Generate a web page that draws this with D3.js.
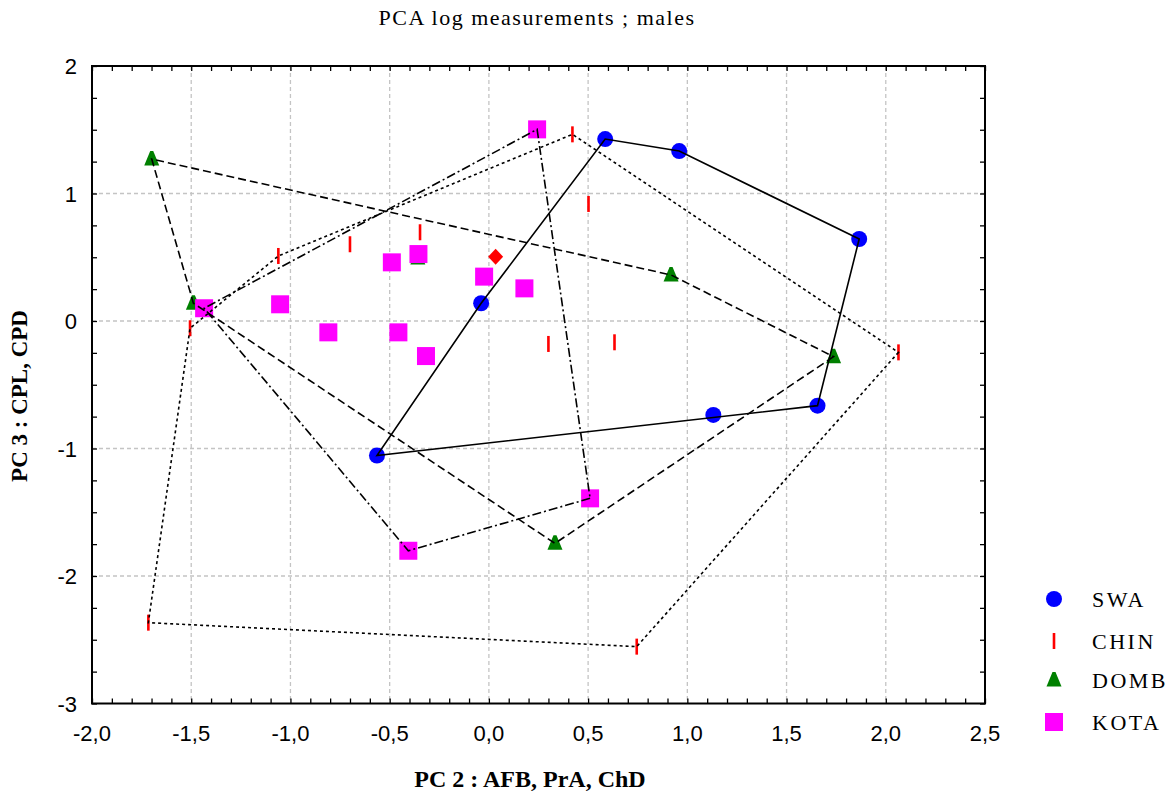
<!DOCTYPE html>
<html>
<head>
<meta charset="utf-8">
<script src="https://cdn.jsdelivr.net/npm/d3@7"></script>
<style>
  html, body { margin: 0; padding: 0; background: #fff; }
  svg { display: block; }
</style>
</head>
<body>
<svg id="chart" width="1173" height="794"></svg>
<script>
// PC2 / PC3 scores per group (males, log measurements)
const swaPC2  = [0.586, 0.959, 1.866, -0.039, -0.564, 1.131, 1.656];
const swaPC3  = [1.427, 1.333, 0.643, 0.139, -1.055, -0.737, -0.664];

const chinPC2 = [0.421, 0.502, -1.061, -0.700, -0.347, -1.506, 0.300, 0.633, 2.064, -1.716, 0.745];
const chinPC3 = [1.464, 0.918, 0.510, 0.602, 0.696, -0.057, -0.180, -0.167, -0.246, -2.366, -2.554];

const dombPC2 = [-1.699, -1.489, 0.918, 1.737, 0.333, -0.358];
const dombPC3 = [1.270, 0.139, 0.361, -0.280, -1.744, 0.494];

const kotaPC2 = [0.243, -1.435, -1.052, -0.809, -0.489, -0.355, -0.456, -0.317, -0.024, 0.179, 0.510, -0.406];
const kotaPC3 = [1.503, 0.100, 0.131, -0.089, 0.460, 0.525, -0.089, -0.275, 0.348, 0.256, -1.391, -1.802];

const centroidPC2 = [0.034];
const centroidPC3 = [0.504];

const groupNames = ["SWA", "CHIN", "DOMB", "KOTA"];
const xTicks = [-2.0, -1.5, -1.0, -0.5, 0.0, 0.5, 1.0, 1.5, 2.0, 2.5];
const yTicks = [-3, -2, -1, 0, 1, 2];

const titleText = "PCA log measurements ; males";
const xTitle = "PC 2 : AFB, PrA, ChD";
const yTitle = "PC 3 : CPL, CPD";

const svg = d3.select("#chart");
const plot = { left: 92, right: 985, top: 66, bottom: 703.5 };

const x = d3.scaleLinear().domain([-2, 2.5]).range([plot.left, plot.right]);
const y = d3.scaleLinear().domain([-3, 2]).range([plot.bottom, plot.top]);

const fmt = v => d3.format(".1f")(v).replace(".", ",").replace("−", "-");
const serif = "'Liberation Serif', 'Times New Roman', serif";

// Title
svg.append("text")
  .attr("x", 537).attr("y", 25)
  .attr("text-anchor", "middle")
  .style("font-family", serif)
  .style("font-size", "22px")
  .style("letter-spacing", "1.5px")
  .text(titleText);

// Grid
const grid = svg.append("g").attr("stroke", "#c4c4c4").attr("stroke-width", 1.3)
  .attr("stroke-dasharray", "4,3");
grid.selectAll(".gx").data(xTicks.filter(t => t > -2 && t < 2.5)).join("line")
  .attr("x1", d => x(d)).attr("x2", d => x(d))
  .attr("y1", plot.top).attr("y2", plot.bottom);
grid.selectAll(".gy").data(yTicks.filter(t => t > -3 && t < 2)).join("line")
  .attr("y1", d => y(d)).attr("y2", d => y(d))
  .attr("x1", plot.left).attr("x2", plot.right);

// Axes with inward ticks (major and minor) on all four sides
const xMinor = d3.range(-20, 26).map(i => i / 10);
const yMinor = d3.range(-12, 9).map(i => i / 4);
const tickLen = 5;

const bottomAxis = d3.axisBottom(x).tickValues(xMinor).tickSize(-tickLen).tickFormat("");
const topAxis = d3.axisTop(x).tickValues(xMinor).tickSize(-tickLen).tickFormat("");
const leftAxis = d3.axisLeft(y).tickValues(yMinor).tickSize(-tickLen).tickFormat("");
const rightAxis = d3.axisRight(y).tickValues(yMinor).tickSize(-tickLen).tickFormat("");

function styleAxis(g) {
  g.select(".domain").remove();
  g.selectAll(".tick line").attr("stroke", "#000").attr("stroke-width", 1.3);
}
svg.append("g").attr("transform", `translate(0,${plot.bottom})`).call(bottomAxis).call(styleAxis);
svg.append("g").attr("transform", `translate(0,${plot.top})`).call(topAxis).call(styleAxis);
svg.append("g").attr("transform", `translate(${plot.left},0)`).call(leftAxis).call(styleAxis);
svg.append("g").attr("transform", `translate(${plot.right},0)`).call(rightAxis).call(styleAxis);

// Tick labels
const labelFont = "'Liberation Sans', Arial, sans-serif";
svg.append("g").selectAll("text").data(xTicks).join("text")
  .attr("x", d => x(d)).attr("y", 741)
  .attr("text-anchor", "middle")
  .style("font-family", labelFont).style("font-size", "22px")
  .text(d => fmt(d));
svg.append("g").selectAll("text").data(yTicks).join("text")
  .attr("x", 77).attr("y", d => y(d) + 8)
  .attr("text-anchor", "end")
  .style("font-family", labelFont).style("font-size", "22px")
  .text(d => d3.format("d")(d).replace("−", "-"));

// Frame
svg.append("rect")
  .attr("x", plot.left).attr("y", plot.top)
  .attr("width", plot.right - plot.left).attr("height", plot.bottom - plot.top)
  .attr("fill", "none").attr("stroke", "#000").attr("stroke-width", 2);

// Axis titles
svg.append("text")
  .attr("x", 530).attr("y", 787)
  .attr("text-anchor", "middle")
  .style("font-family", serif)
  .style("font-size", "24px").style("font-weight", "bold")
  .text(xTitle);
svg.append("text")
  .attr("transform", "translate(27,396) rotate(-90)")
  .attr("text-anchor", "middle")
  .style("font-family", serif)
  .style("font-size", "23px").style("font-weight", "bold")
  .text(yTitle);

// Group data
const groups = [
  { name: groupNames[0], xs: swaPC2,  ys: swaPC3,  color: "#0000ff", shape: "circle",   dash: null },
  { name: groupNames[1], xs: chinPC2, ys: chinPC3, color: "#ff0000", shape: "bar",      dash: "3,3" },
  { name: groupNames[2], xs: dombPC2, ys: dombPC3, color: "#008000", shape: "triangle", dash: "8,4" },
  { name: groupNames[3], xs: kotaPC2, ys: kotaPC3, color: "#ff00ff", shape: "square",   dash: "9,3,2,3" }
];

function drawMarker(sel, shape, color) {
  if (shape === "circle") {
    sel.append("circle").attr("r", 8).attr("fill", color);
  } else if (shape === "bar") {
    sel.append("rect").attr("x", -1.3).attr("y", -8).attr("width", 2.6).attr("height", 16).attr("fill", color);
  } else if (shape === "triangle") {
    sel.append("path").attr("d", "M-1.5,-8 L1.5,-8 L7.5,6.5 L-7.5,6.5 Z").attr("fill", color);
  } else if (shape === "square") {
    sel.append("rect").attr("x", -9).attr("y", -9).attr("width", 18).attr("height", 18).attr("fill", color);
  }
}

const markers = svg.append("g");
groups.forEach(gr => {
  const pts = gr.xs.map((v, i) => [v, gr.ys[i]]);
  markers.append("g").selectAll("g").data(pts).join("g")
    .attr("transform", d => `translate(${x(d[0])},${y(d[1])})`)
    .each(function () { drawMarker(d3.select(this), gr.shape, gr.color); });
});

// Overall centroid marker
markers.append("g").selectAll("path").data(centroidPC2.map((v, i) => [v, centroidPC3[i]])).join("path")
  .attr("transform", d => `translate(${x(d[0])},${y(d[1])})`)
  .attr("d", "M0,-8 L7.5,0 L0,8 L-7.5,0 Z")
  .attr("fill", "#ff0000");

// Convex hull per group
const hullLine = d3.line().x(d => x(d[0])).y(d => y(d[1])).curve(d3.curveLinearClosed);
const hulls = svg.append("g").attr("fill", "none").attr("stroke", "#000").attr("stroke-width", 1.6);
groups.forEach(gr => {
  const pts = gr.xs.map((v, i) => [v, gr.ys[i]]);
  const hull = d3.polygonHull(pts);
  hulls.append("path")
    .attr("d", hullLine(hull))
    .attr("stroke-dasharray", gr.dash)
    .attr("stroke-linejoin", "miter");
});

// Legend
const legend = svg.append("g");
const legendY = [599, 641, 680, 722];
groups.forEach((gr, i) => {
  const row = legend.append("g").attr("transform", `translate(1054,${legendY[i]})`);
  drawMarker(row, gr.shape, gr.color);
  row.append("text")
    .attr("x", 38).attr("y", 8)
    .style("font-family", serif)
    .style("font-size", "22px")
    .style("letter-spacing", "2.5px")
    .text(gr.name);
});
</script>
</body>
</html>
